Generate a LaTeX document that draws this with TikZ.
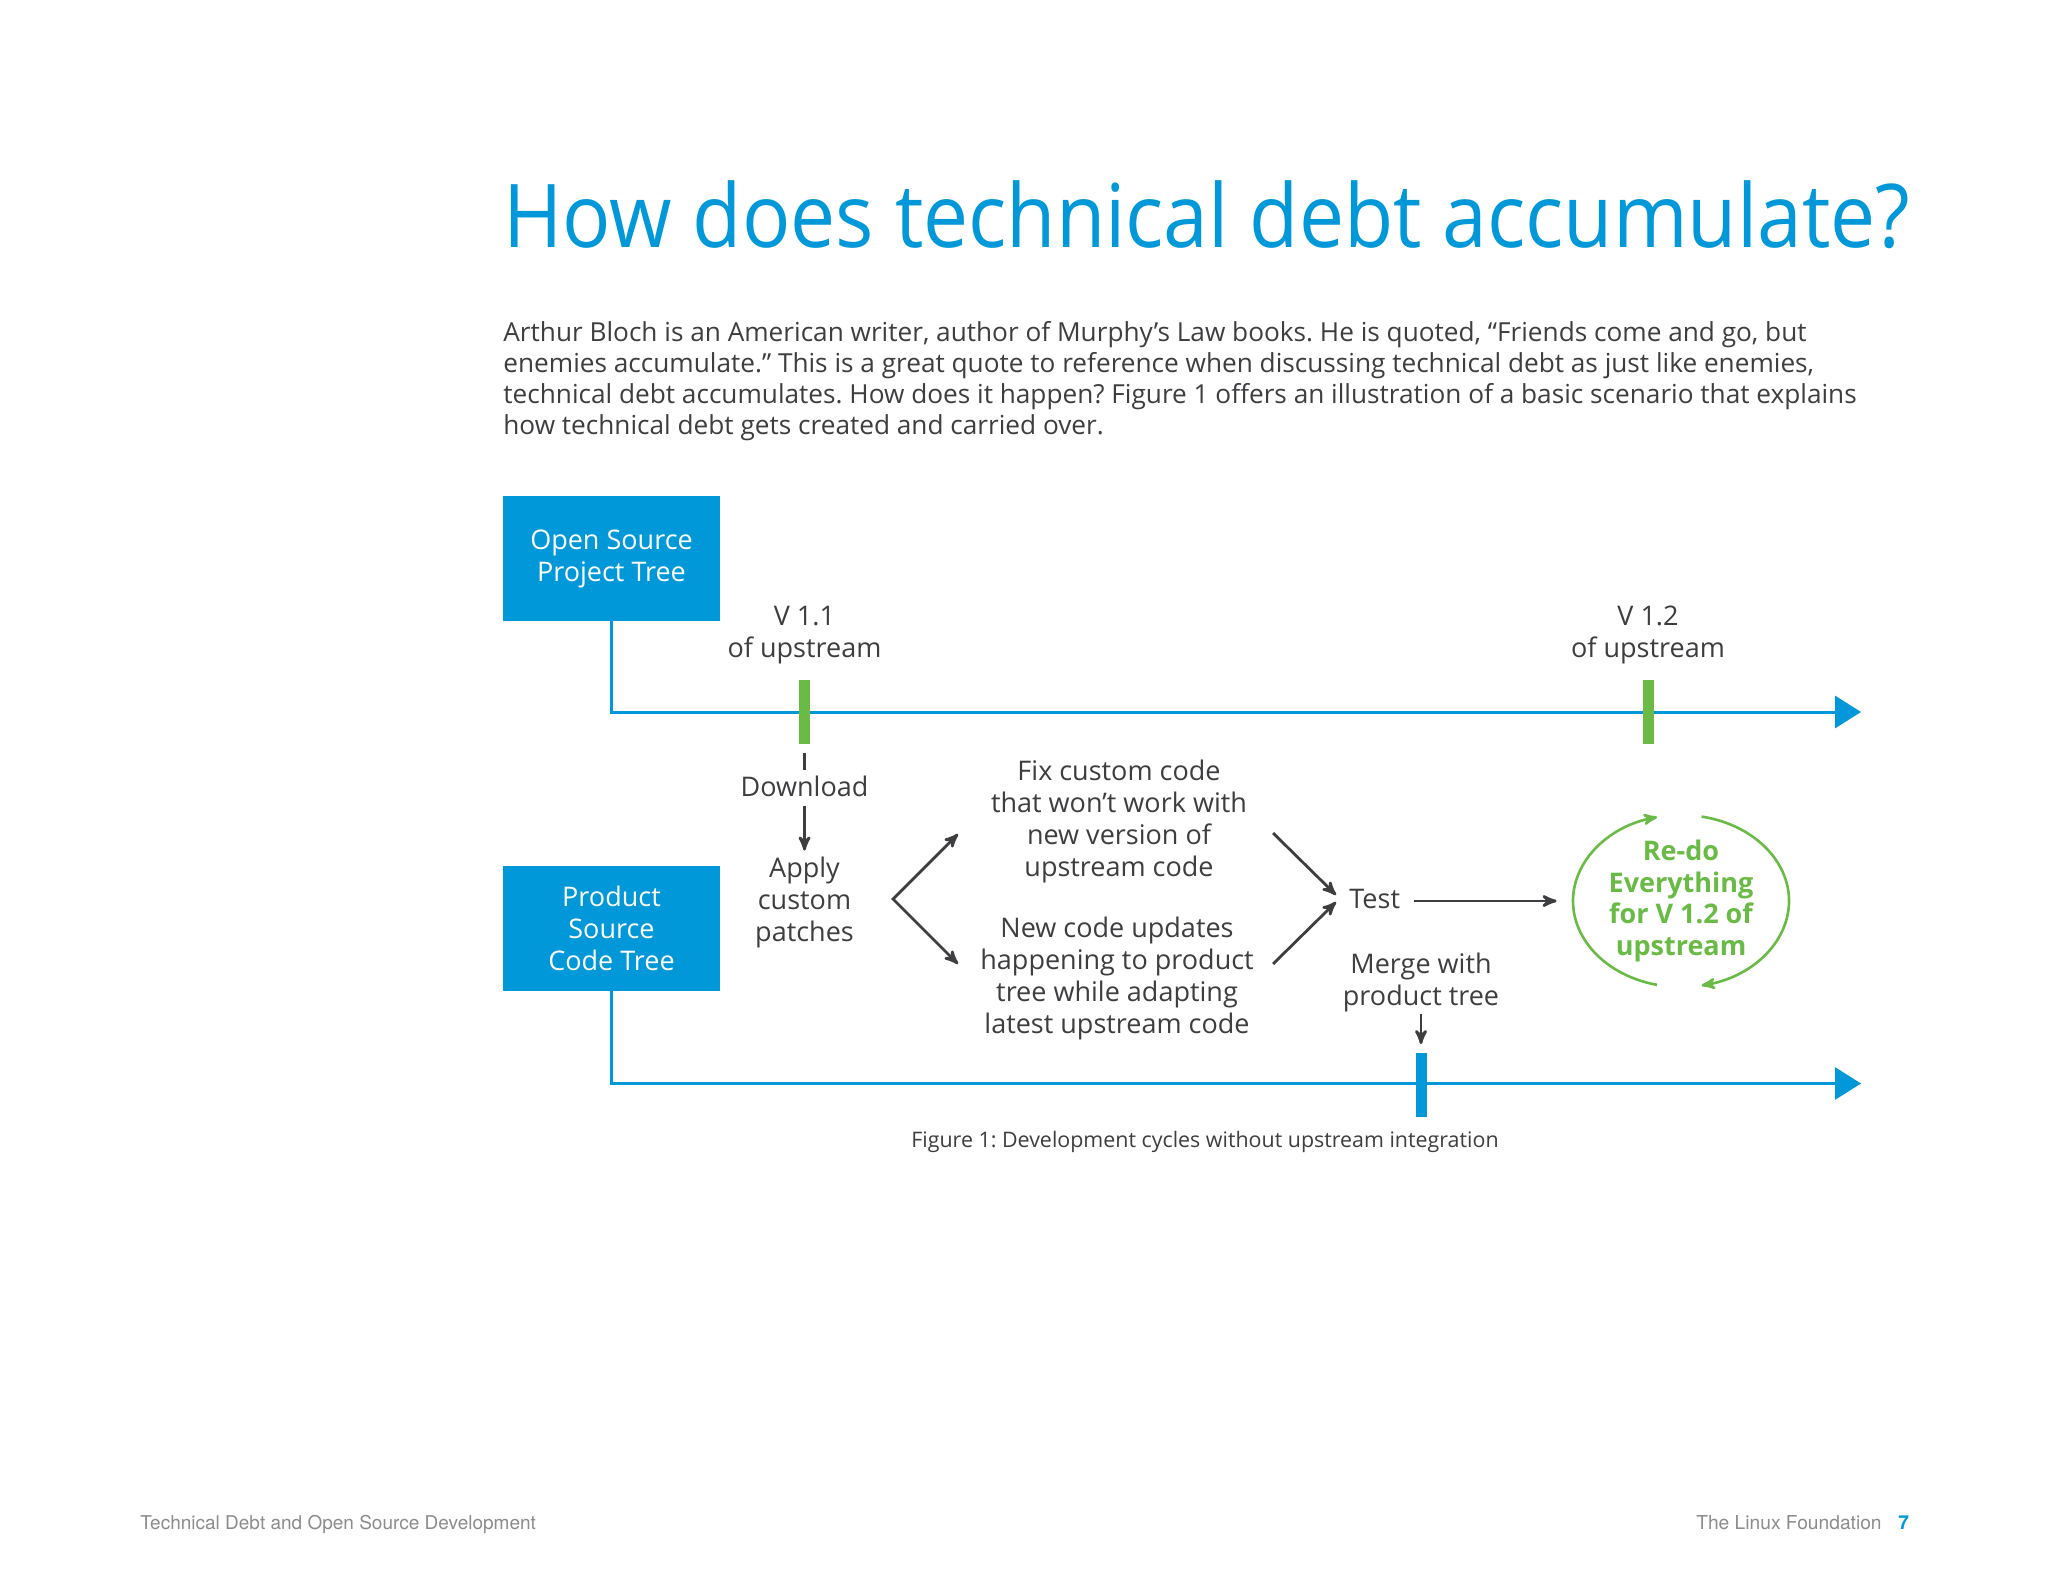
\documentclass[tikz,border=0pt]{standalone}
\usepackage{fontspec}
\setmainfont{Open Sans}
\newfontfamily\titlefont[FakeStretch=0.913]{Open Sans}
\newfontfamily\footfont{TeX Gyre Heros}
\usetikzlibrary{arrows,arrows.meta,positioning}
\frenchspacing

\definecolor{lfblue}{RGB}{0,152,216}
\definecolor{lfgreen}{RGB}{106,187,70}
\definecolor{inkgray}{RGB}{62,62,65}
\definecolor{footgray}{RGB}{140,140,140}

\begin{document}
\begin{tikzpicture}[x=0.5pt,y=-0.5pt,>=stealth',
        tree box/.style={rectangle,fill=lfblue,text=white,align=center,inner sep=0pt,
          minimum width=108.5pt,minimum height=62.5pt,font=\fontsize{13.5}{16}\selectfont},
        up tick/.style={rectangle,fill=lfgreen,inner sep=0pt,minimum width=5.5pt,minimum height=32pt},
        prod tick/.style={up tick,fill=lfblue},
        step text/.style={text=inkgray,align=center,inner sep=0pt,font=\fontsize{13.5}{16}\selectfont},
        timeline/.style={draw=lfblue,line width=1.5pt,-{Triangle[length=13pt,width=16pt]}},
        flow/.style={->,draw=inkgray,line width=1.4pt},
        loop arc/.style={->,draw=lfgreen,line width=1.3pt}]

        \fill[white] (0,0) rectangle (2048,1582);
        \useasboundingbox (0,0) rectangle (2048,1582);

        \node[anchor=base west,inner sep=0pt,text=lfblue,font=\titlefont\fontsize{44}{44}\selectfont] (title) at (503,248)
          {How does technical debt accumulate?};
        \node[anchor=north west,inner sep=0pt,align=left,text=inkgray,font=\fontsize{13.1}{15.5}\selectfont] (intro) at (503,321.5)
          {Arthur Bloch is an American writer, author of Murphy’s Law books. He is quoted, “Friends come and go, but\\
           enemies accumulate.” This is a great quote to reference when discussing technical debt as just like enemies,\\
           technical debt accumulates. How does it happen? Figure 1 offers an illustration of a basic scenario that explains\\
           how technical debt gets created and carried over.};

        \node[tree box] (ostree) at (611.5,558.5) {Open Source\\Project Tree};
        \node[tree box] (pstree) at (611.5,928.5) {Product\\Source\\Code Tree};

        \coordinate (uptip) at (1861,712);
        \coordinate (prodtip) at (1861,1083.5);
        \draw[timeline] (ostree.south) |- (uptip);
        \draw[timeline] (pstree.south) |- (prodtip);

        \node[up tick] (v11) at (804.5,712) {};
        \node[up tick] (v12) at (1648,712) {};
        \node[prod tick] (mtick) at (1421,1084.5) {};

        \node[step text,above=7.75pt of v11] (v11lbl) {V 1.1\\of upstream};
        \node[step text,above=7.75pt of v12] (v12lbl) {V 1.2\\of upstream};
        \node[step text,anchor=base] (download) at (804.5,796) {Download};
        \node[step text,anchor=north] (apply) at (804.5,856.5) {Apply\\custom\\patches};
        \node[step text,anchor=north] (fixtext) at (1119,759.5)
          {Fix custom code\\that won’t work with\\new version of\\upstream code};
        \node[step text,anchor=north] (newtext) at (1117,916.5)
          {New code updates\\happening to product\\tree while adapting\\latest upstream code};
        \node[step text,anchor=west,text height=7pt,text depth=0pt] (test) at (1349,901) {Test};
        \node[step text,above=20pt of mtick] (merge) {Merge with\\product tree};
        \node[step text,text=lfgreen,minimum width=124pt,font=\fontsize{13.5}{15.8}\selectfont\bfseries] (redo) at (1681,901)
          {Re-do\\Everything\\for V 1.2 of\\upstream};

        \coordinate (fork) at (893,899);
        \coordinate (fixin) at (958,834);
        \coordinate (newin) at (958,964);
        \coordinate (fixout) at (1273,833);
        \coordinate (newout) at (1273,964);
        \coordinate (testin1) at (1336,895);
        \coordinate (testin2) at (1336,902);

        \draw[inkgray,line width=1.4pt,shorten <=4.5pt,shorten >=2.5pt] (v11) -- (download);
        \draw[flow,shorten <=4.5pt,shorten >=3pt] (download) -- (apply);
        \draw[<->,draw=inkgray,line width=1.4pt,line join=miter] (fixin) -- (fork) -- (newin);
        \draw[flow] (fixout) -- (testin1);
        \draw[flow] (newout) -- (testin2);
        \draw[flow,shorten <=7pt] (test) -- (test -| redo.west);
        \draw[flow,shorten <=0.75pt,shorten >=4pt] (merge) -- (mtick);

        \draw[loop arc] ([shift={(102.8:108 and 86)}]redo.center) arc[start angle=102.8,end angle=257.2,x radius=108,y radius=86];
        \draw[loop arc] ([shift={(-79:108 and 86)}]redo.center) arc[start angle=-79,end angle=79,x radius=108,y radius=86];

        \node[anchor=base,inner sep=0pt,text=inkgray,font=\fontsize{10.7}{12}\selectfont] (caption) at (1205,1147)
          {Figure 1: Development cycles without upstream integration};

        \node[anchor=base west,inner sep=0pt,text=footgray,font=\footfont\fontsize{9.5}{11}\selectfont] (docname) at (140,1529)
          {Technical Debt and Open Source Development};
        \node[anchor=base east,inner sep=0pt,text=footgray,font=\footfont\fontsize{9.6}{11}\selectfont] (lf) at (1882,1529)
          {The Linux Foundation};
        \node[base right=8pt of lf,inner sep=0pt,text=lfblue,font=\footfont\fontsize{9.6}{11}\selectfont\bfseries] (pageno) {7};
      \end{tikzpicture}
\end{document}
